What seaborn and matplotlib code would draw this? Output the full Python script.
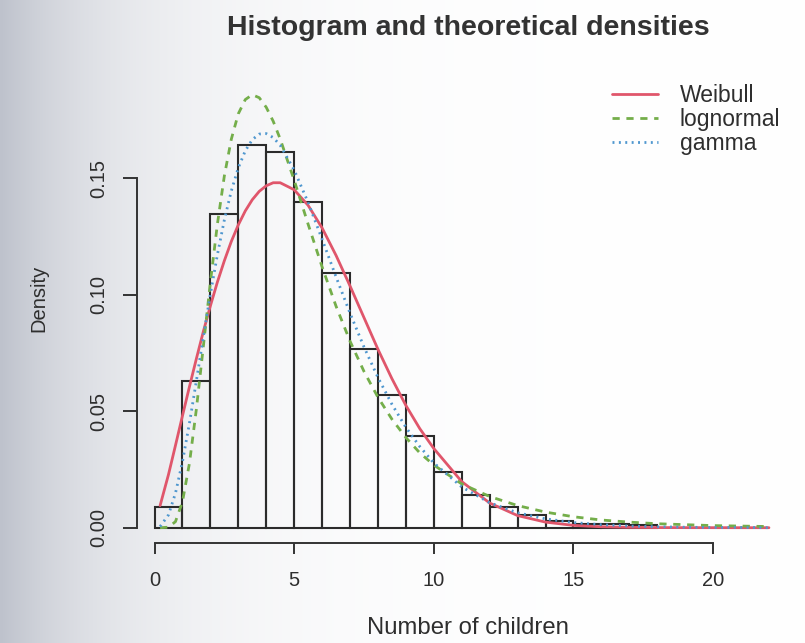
import numpy as np
import pandas as pd
import matplotlib
matplotlib.use("Agg")
import matplotlib.pyplot as plt
import seaborn as sns

# ---------------- data ----------------
bin_edges = [0, 1, 2, 3, 4, 5, 6, 7, 8, 9, 10, 11, 12, 13, 14, 15, 16, 17, 18]
hist_density = [0.0090, 0.0630, 0.1345, 0.1642, 0.1613, 0.1400, 0.1092, 0.0766,
                0.0570, 0.0394, 0.0238, 0.0141, 0.0090, 0.0053, 0.0030, 0.0018,
                0.0014, 0.0010]

curve_x = [0.2, 0.5, 0.75, 1, 1.25, 1.5, 1.75, 2, 2.25, 2.5, 2.75, 3, 3.25, 3.5,
           3.75, 4, 4.25, 4.5, 5, 5.5, 6, 6.5, 7, 7.5, 8, 8.5, 9, 9.5, 10, 11,
           12, 13, 14, 15, 16, 17, 18, 19, 20, 21, 22]
weibull = [0.0095, 0.0228, 0.0353, 0.0480, 0.0605, 0.0726, 0.0843, 0.0952, 0.1054,
           0.1146, 0.1229, 0.1300, 0.1360, 0.1408, 0.1444, 0.1468, 0.1481, 0.1481,
           0.1451, 0.1384, 0.1287, 0.1169, 0.1038, 0.0902, 0.0766, 0.0640, 0.0525,
           0.0425, 0.0340, 0.0198, 0.0106, 0.0052, 0.0024, 0.0010, 0.0004, 0.00015,
           0.00005, 0.00002, 0.00001, 0.0, 0.0]
lognormal = [0.0, 0.0002, 0.0026, 0.0111, 0.0276, 0.0510, 0.0780, 0.1053, 0.1302,
             0.1510, 0.1668, 0.1777, 0.1838, 0.1859, 0.1846, 0.1805, 0.1745, 0.1669,
             0.1492, 0.1303, 0.1120, 0.0951, 0.0801, 0.0671, 0.0560, 0.0466, 0.0387,
             0.0321, 0.0269, 0.0188, 0.0134, 0.0095, 0.0067, 0.0047, 0.0033, 0.0024,
             0.0017, 0.0013, 0.0009, 0.0007, 0.0005]
gamma = [0.0005, 0.0055, 0.0148, 0.0283, 0.0448, 0.0631, 0.0820, 0.1003, 0.1171,
         0.1321, 0.1446, 0.1545, 0.1618, 0.1666, 0.1690, 0.1692, 0.1675, 0.1642,
         0.1536, 0.1396, 0.1239, 0.1077, 0.0921, 0.0776, 0.0645, 0.0530, 0.0431,
         0.0348, 0.0278, 0.0175, 0.0107, 0.0064, 0.0038, 0.0022, 0.0013, 0.0007,
         0.0004, 0.0002, 0.0001, 0.0001, 0.0]

legend_labels = ["Weibull", "lognormal", "gamma"]
x_ticks = [0, 5, 10, 15, 20]
y_ticks = [0.00, 0.05, 0.10, 0.15]
y_tick_labels = ["0.00", "0.05", "0.10", "0.15"]

# ---------------- style ----------------
sns.set_style("white")
plt.rcParams["font.family"] = ["Liberation Sans", "DejaVu Sans"]
TXT = "#2e2e2e"

W, H = 805, 643
fig = plt.figure(figsize=(W / 100, H / 100), dpi=100)
fig.patch.set_facecolor("white")

# scanned-page grey shading on the left
bg = fig.add_axes([0, 0, 1, 1], zorder=-10)
xs = np.arange(W)
fall = np.exp(-xs / 130.0)
edge = np.array([190, 194, 204]) / 255.0
row = 1.0 - (1.0 - edge)[None, :] * fall[:, None]
img = np.repeat(row[None, :, :], 10, axis=0)
bg.imshow(img, aspect="auto", extent=[0, 1, 0, 1])
bg.axis("off")

ax = fig.add_axes([137 / W, 1 - 543 / H, (785.7 - 137) / W, (543 - 73.5) / H])
ax.patch.set_alpha(0)

centers = [e + 0.5 for e in bin_edges[:-1]]
sns.histplot(x=centers, weights=hist_density, bins=bin_edges, stat="count",
             fill=False, color="#2b2b2b", linewidth=1.5, ax=ax)

sns.lineplot(x=curve_x, y=weibull, color="#E0566B", linewidth=2.0,
             label=legend_labels[0], ax=ax, sort=False)
sns.lineplot(x=curve_x, y=lognormal, color="#74AE4A", linewidth=2.0,
             linestyle=(0, (2.6, 2.4)), label=legend_labels[1], ax=ax, sort=False)
sns.lineplot(x=curve_x, y=gamma, color="#4F97CF", linewidth=2.0,
             linestyle=(0, (0.7, 1.6)), label=legend_labels[2], ax=ax, sort=False)

ax.set_xlim(-0.627, 22.6)
ax.set_ylim(-(543 - 527.7) / 2329.0, 0.195)
ax.set_xlabel("")
ax.set_ylabel("")

for s in ["top", "right"]:
    ax.spines[s].set_visible(False)
for s in ["left", "bottom"]:
    ax.spines[s].set_color("#333333")
    ax.spines[s].set_linewidth(1.4)
ax.spines["left"].set_bounds(0, 0.15)
ax.spines["bottom"].set_bounds(0, 20)

ax.set_xticks(x_ticks)
ax.set_xticklabels([str(t) for t in x_ticks])
ax.set_yticks(y_ticks)
ax.set_yticklabels(y_tick_labels, rotation=90, va="center")
ax.tick_params(axis="x", bottom=True, direction="out", length=8, width=1.4,
               pad=12, labelsize=14.5, colors="#333333", labelcolor=TXT)
ax.tick_params(axis="y", left=True, direction="out", length=10, width=1.4,
               pad=11, labelsize=14.5, colors="#333333", labelcolor=TXT)

leg = ax.legend(loc="upper left", bbox_to_anchor=(612 / W, 1 - 84 / H),
                bbox_transform=fig.transFigure, frameon=False, fontsize=16.5,
                handlelength=2.0, handletextpad=0.95, labelspacing=0.05,
                borderpad=0, borderaxespad=0)
for t in leg.get_texts():
    t.set_color(TXT)

fig.text(468 / W, 1 - 35 / H, "Histogram and theoretical densities",
         fontsize=20.5, fontweight="bold", ha="center", va="baseline", color="#333333")
fig.text(467.5 / W, 1 - 634 / H, "Number of children", fontsize=17.2,
         ha="center", va="baseline", color=TXT)
fig.text(39 / W, 1 - 298 / H, "Density", fontsize=14.5, rotation=90,
         ha="center", va="center", color=TXT)

fig.savefig("out.png", dpi=100)
